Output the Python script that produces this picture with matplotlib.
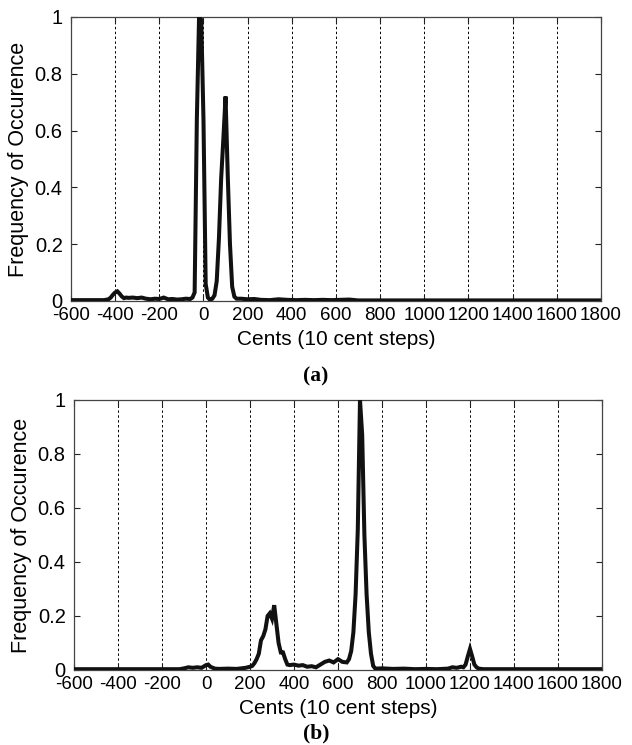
import matplotlib
matplotlib.use("Agg")
import matplotlib.pyplot as plt

# pitch histogram values, 10 cent bins (only bins that differ from baseline listed)
cents_a = [-600, -450, -430, -420, -410, -400, -390, -380, -370, -360, -350, -340,
           -320, -300, -280, -260, -240, -220, -200, -180, -160, -140, -120, -100,
           -80, -60, -50, -40, -30, -20, -10, 0, 10, 20, 30, 40, 50, 60, 70, 80,
           90, 100, 110, 120, 130, 140, 150, 170, 200, 230, 260, 300, 340, 380,
           420, 460, 500, 540, 580, 620, 660, 700, 800, 1800]
freq_a = [0.003, 0.003, 0.006, 0.012, 0.022, 0.03, 0.034, 0.026, 0.016, 0.01, 0.012, 0.011,
          0.012, 0.01, 0.012, 0.008, 0.006, 0.008, 0.007, 0.012, 0.006, 0.007, 0.005, 0.006,
          0.008, 0.007, 0.012, 0.03, 0.64, 1.0, 0.99, 0.64, 0.06, 0.012, 0.004, 0.008, 0.02,
          0.07, 0.22, 0.43, 0.57, 0.72, 0.44, 0.2, 0.05, 0.015, 0.008, 0.008, 0.006, 0.007,
          0.004, 0.003, 0.006, 0.004, 0.003, 0.004, 0.003, 0.004, 0.003, 0.004, 0.005,
          0.002, 0.002, 0.002]

cents_b = [-600, -120, -100, -80, -60, -40, -20, 0, 10, 20, 40, 60, 100, 140, 180,
           200, 210, 220, 230, 240, 250, 260, 270, 280, 290, 300, 310, 320, 330, 340,
           350, 360, 370, 380, 400, 420, 440, 460, 480, 500, 520, 540, 560, 580, 600,
           610, 620, 640, 650, 660, 670, 680, 690, 700, 710, 720, 730, 740, 750, 760,
           770, 800, 850, 900, 950, 1000, 1050, 1100, 1120, 1140, 1160, 1170, 1180,
           1190, 1200, 1210, 1220, 1230, 1240, 1260, 1800]
freq_b = [0.003, 0.003, 0.006, 0.01, 0.008, 0.01, 0.008, 0.018, 0.02, 0.012, 0.005, 0.004,
          0.005, 0.004, 0.008, 0.012, 0.015, 0.025, 0.04, 0.06, 0.11, 0.125, 0.15, 0.2,
          0.21, 0.19, 0.24, 0.17, 0.1, 0.065, 0.065, 0.04, 0.02, 0.018, 0.02, 0.016,
          0.018, 0.012, 0.014, 0.01, 0.02, 0.03, 0.035, 0.028, 0.04, 0.035, 0.03, 0.028,
          0.04, 0.07, 0.14, 0.28, 0.52, 1.0, 0.87, 0.5, 0.28, 0.14, 0.06, 0.015, 0.005,
          0.006, 0.004, 0.005, 0.003, 0.004, 0.003, 0.005, 0.01, 0.008, 0.012, 0.01, 0.02,
          0.05, 0.078, 0.05, 0.02, 0.01, 0.005, 0.003, 0.003]

xticks = list(range(-600, 1801, 200))
yticks = [0, 0.2, 0.4, 0.6, 0.8, 1]
ytick_labels = ["0", "0.2", "0.4", "0.6", "0.8", "1"]

plt.rcParams['font.family'] = ['Liberation Sans', 'DejaVu Sans']

fig = plt.figure(figsize=(6.32, 7.45), dpi=100)
ax_a = fig.add_axes([0.1123, 0.596, 0.8386, 0.3812])
ax_b = fig.add_axes([0.1171, 0.1007, 0.8354, 0.3624])


def style(ax, x, y):
    ax.plot(x, y, color='#111111', lw=2.9, solid_joinstyle='miter', zorder=3)
    ax.set_xlim(-600, 1800)
    ax.set_ylim(0, 1)
    ax.set_xticks(xticks)
    ax.set_xticklabels([str(t) for t in xticks], fontsize=13.5)
    ax.set_yticks(yticks)
    ax.set_yticklabels(ytick_labels, fontsize=14.5)
    for t in xticks[1:-1]:
        ax.axvline(t, color='black', lw=0.7, ls=(0, (2.5, 2.5)), zorder=1)
    ax.tick_params(direction='in', length=4, width=0.8, top=True, right=True,
                   colors='#222222', labelcolor='black')
    ax.tick_params(axis='x', pad=4)
    ax.tick_params(axis='y', pad=6)
    for s in ax.spines.values():
        s.set_color('#444444')
        s.set_linewidth(0.9)
    ax.set_xlabel('Cents (10 cent steps)', fontsize=15, labelpad=5)
    ax.set_ylabel('Frequency of Occurence', fontsize=15.5, labelpad=4)


style(ax_a, cents_a, freq_a)
style(ax_b, cents_b, freq_b)

fig.text(0.5, 1 - 376 / 745, '(a)', ha='center', va='center', fontsize=15.5,
         fontweight='bold', family='Liberation Serif')
fig.text(0.5, 1 - 733 / 745, '(b)', ha='center', va='center', fontsize=15.5,
         fontweight='bold', family='Liberation Serif')

fig.savefig('out.png', dpi=100)
